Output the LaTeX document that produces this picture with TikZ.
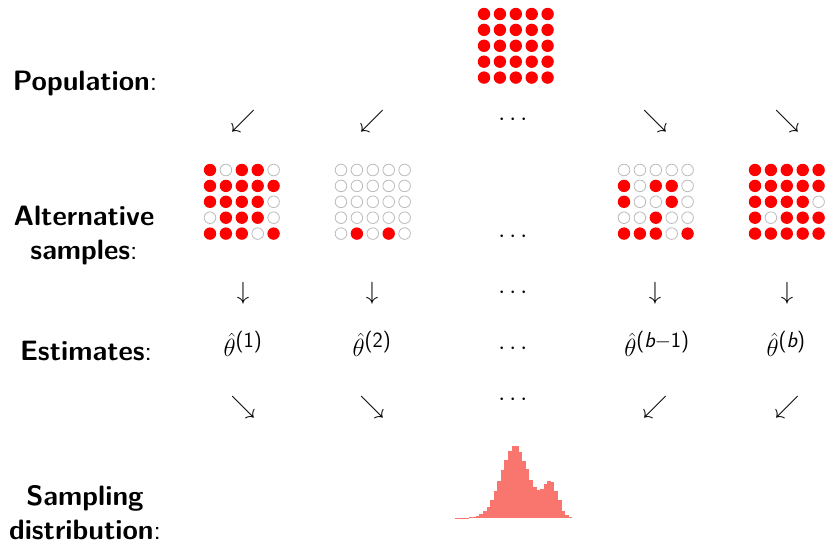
\documentclass[tikz,border=0pt]{standalone}
\usepackage{amsmath}
\definecolor{histred}{HTML}{F8766D}
\definecolor{ringgray}{HTML}{BBBBBB}
\tikzset{
  lab/.style={align=center, font=\fontsize{28}{34}\selectfont\sffamily, inner sep=0pt},
  sym/.style={font=\fontsize{26}{30}\selectfont, inner sep=0pt},
  est/.style={font=\fontsize{31}{34}\selectfont, inner sep=0pt},
  whitedot/.style={fill=white, draw=ringgray, line width=0.8pt},
  bar/.style={fill=histred, draw=none}
}
\newcommand{\dotgrid}[3]{% x0, y0, pattern list (25 entries 1/0)
  \foreach \v [count=\k from 0] in {#3} {
    \pgfmathtruncatemacro{\col}{mod(\k,5)}
    \pgfmathtruncatemacro{\row}{div(\k,5)}
    \ifnum\v=1
      \fill[red] ({#1+15.9*\col},{#2+15.9*\row}) circle (6.2);
    \else
      \draw[whitedot] ({#1+15.9*\col},{#2+15.9*\row}) circle (5.8);
    \fi
  }
}
\begin{document}
\begin{tikzpicture}[x=1pt, y=-1pt]
\useasboundingbox (0,0) rectangle (826,545);
\fill[white] (0,0) rectangle (826,545);

% labels
\node[lab] (lpop) at (85,84) {\textbf{Population}:};
\node[lab] (lalt) at (84,235) {\textbf{Alternative}\\\textbf{samples}:};
\node[lab] (lest) at (86,351) {\textbf{Estimates}:};
\node[lab] (ldist) at (85,513) {\textbf{Sampling}\\\textbf{distribution}:};

% population grid
\dotgrid{484}{14}{1,1,1,1,1, 1,1,1,1,1, 1,1,1,1,1, 1,1,1,1,1, 1,1,1,1,1}

% row 1 arrows
\node[sym] (a11) at (243,121) {$\swarrow$};
\node[sym] (a12) at (372,121) {$\swarrow$};
\node[sym] (a13) at (515,120) {$\cdots$};
\node[sym] (a14) at (655,121) {$\searrow$};
\node[sym] (a15) at (787,121) {$\searrow$};

% samples
\dotgrid{210}{170}{1,0,1,1,0, 1,1,1,1,1, 1,1,1,1,0, 0,1,1,1,0, 1,1,1,0,1}
\dotgrid{341}{170}{0,0,0,0,0, 0,0,0,0,0, 0,0,0,0,0, 0,0,0,0,0, 0,1,0,1,0}
\node[sym] (sdots) at (515,237) {$\cdots$};
\dotgrid{624}{170}{0,0,0,0,0, 1,0,1,1,0, 1,0,0,1,0, 0,0,1,0,0, 1,1,1,0,1}
\dotgrid{755}{170}{1,1,1,1,1, 1,1,1,1,1, 1,1,1,1,0, 1,0,1,1,1, 1,1,1,1,1}

% row 2 arrows
\node[sym] (a21) at (243,293) {$\downarrow$};
\node[sym] (a22) at (372,293) {$\downarrow$};
\node[sym] (a23) at (515,293) {$\cdots$};
\node[sym] (a24) at (655,293) {$\downarrow$};
\node[sym] (a25) at (787,293) {$\downarrow$};

% estimates
\node[est] (e1) at (243,344) {$\hat{\theta}^{\textsf{(1)}}$};
\node[est] (e2) at (372,344) {$\hat{\theta}^{\textsf{(2)}}$};
\node[sym] (e3) at (515,349) {$\cdots$};
\node[est] (e4) at (657,344) {$\hat{\theta}^{\textsf{(}\textsf{\itshape b}-\textsf{1)}}$};
\node[est] (e5) at (786,344) {$\hat{\theta}^{\textsf{(\itshape b\upshape)}}$};

% row 4 arrows
\node[sym] (a41) at (243,407) {$\searrow$};
\node[sym] (a42) at (372,407) {$\searrow$};
\node[sym] (a43) at (515,400) {$\cdots$};
\node[sym] (a44) at (655,407) {$\swarrow$};
\node[sym] (a45) at (787,407) {$\swarrow$};

% histogram
\foreach \h [count=\i from 0] in {0.1,0.2,0.3,0.5,0.7,1.3,2.3,4,6.7,11,17.7,26.7,37.3,47.7,58.3,66.7,72.3,72.3,65.7,57.3,49.3,37.7,30.7,28.3,29,34,36.7,36,26.7,17.7,7.3,3,0.7} {
  \fill[bar] ({454.5+3.57*\i},518) rectangle ({454.5+3.57*(\i+1)},{518-\h});
}
\end{tikzpicture}
\end{document}
